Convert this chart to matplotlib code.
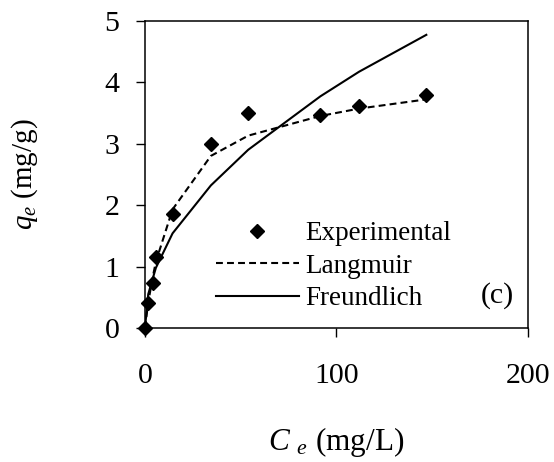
import matplotlib
matplotlib.use('Agg')
import matplotlib.pyplot as plt

plt.rcParams['font.family'] = ['Liberation Serif', 'DejaVu Serif']
plt.rcParams['mathtext.fontset'] = 'custom'
plt.rcParams['mathtext.rm'] = 'Liberation Serif'
plt.rcParams['mathtext.it'] = 'Liberation Serif:italic'

# data
ce = [0, 1.7, 4.0, 5.7, 14.4, 34.4, 53.9, 91.6, 111.8, 146.9]
qe_exp = [0, 0.41, 0.74, 1.16, 1.85, 3.00, 3.50, 3.46, 3.62, 3.79]
qe_langmuir = [0, 0.42, 0.82, 1.08, 1.93, 2.80, 3.13, 3.45, 3.57, 3.72]
qe_freundlich = [0, 0.55, 0.80, 0.98, 1.54, 2.32, 2.90, 3.77, 4.17, 4.77]

xticks = [0, 100, 200]
yticks = [0, 1, 2, 3, 4, 5]

fig, ax = plt.subplots(figsize=(5.54, 4.62), dpi=100)
fig.subplots_adjust(left=0.2617, right=0.9531, top=0.9552, bottom=0.290)

ax.plot(ce, qe_exp, linestyle='none', marker='D', markersize=7.5,
        color='black', label='Experimental', clip_on=False, zorder=3)
ax.plot(ce, qe_langmuir, linestyle=(0, (3.3, 2.0)), linewidth=1.5,
        color='black', label='Langmuir')
ax.plot(ce, qe_freundlich, linestyle='-', linewidth=1.5,
        color='black', label='Freundlich')

ax.set_xlim(0, 200)
ax.set_ylim(0, 5)
ax.set_xticks(xticks)
ax.set_yticks(yticks)
ax.tick_params(axis='both', direction='out', length=6.5, width=1,
               labelsize=21.5, color='black')
ax.tick_params(axis='y', pad=12)
ax.tick_params(axis='x', pad=19)
for s in ax.spines.values():
    s.set_linewidth(1.1)

ax.set_xlabel(r'$C$ $_e$ (mg/L)', fontsize=22.5)
ax.set_ylabel(r'$q_e$ (mg/g)', fontsize=21)
ax.xaxis.set_label_coords(0.5, -0.317)
ax.yaxis.set_label_coords(-0.274, 0.5)

ax.legend(loc='upper left', bbox_to_anchor=(0.185, 0.347), frameon=False,
          fontsize=19.5, handlelength=3.07, handletextpad=0.23,
          labelspacing=0.27, borderpad=0, borderaxespad=0, numpoints=1)
ax.text(0.919, 0.106, '(c)', transform=ax.transAxes, fontsize=21.5,
        ha='center', va='center')

fig.savefig('out.png', dpi=100)
